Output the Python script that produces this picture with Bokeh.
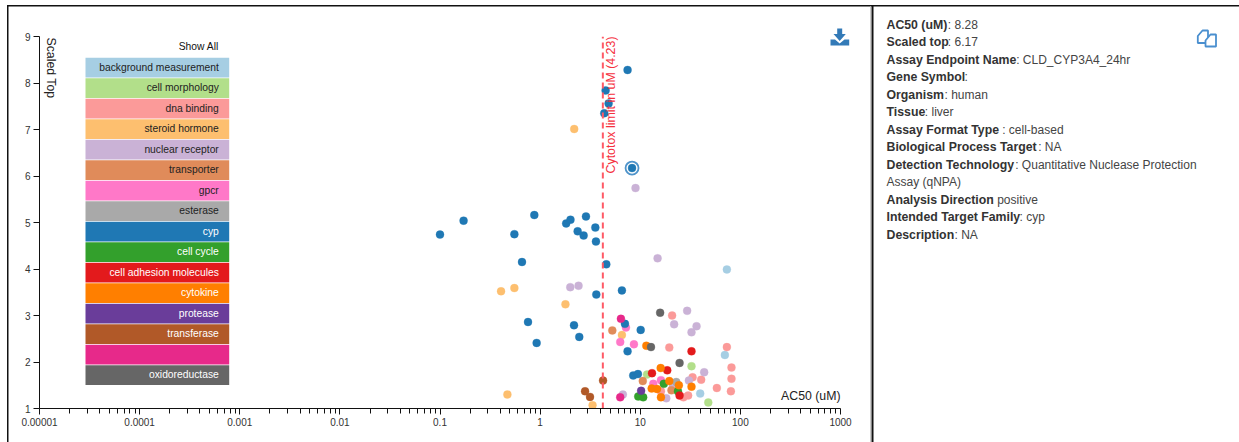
import math
from bokeh.plotting import figure
from bokeh.layouts import column, row
from bokeh.embed import file_html
from bokeh.resources import INLINE
from bokeh.models import Range1d, FixedTicker, Label, BoxAnnotation, PolyAnnotation

W, H = 1239, 442

categories = ["background measurement", "cell morphology", "dna binding", "steroid hormone",
              "nuclear receptor", "transporter", "gpcr", "esterase", "cyp", "cell cycle",
              "cell adhesion molecules", "cytokine", "protease", "transferase", "", "oxidoreductase"]
colors = ["#a6cee3", "#b2df8a", "#fb9a99", "#fdbf6f", "#cab2d6", "#e08b5a", "#ff78c8", "#a9a9a9",
          "#1f78b4", "#33a02c", "#e31a1c", "#ff7f00", "#6a3d9a", "#b15928", "#e7298a", "#666666"]
label_colors = ["#222"] * 8 + ["#fff"] * 8

ac50 = {
    "background measurement": [70.0, 39.7, 73.3],
    "cell morphology": [32.5, 11.7, 47.8],
    "dna binding": [20.8, 19.5, 73.3, 81.5, 81.5, 80.4, 58.2, 40.6, 33.3, 16.1, 27.0, 30.1],
    "steroid hormone": [2.19, 0.407, 0.553, 1.79, 0.471, 6.56, 3.34],
    "nuclear receptor": [8.97, 14.9, 2.00, 2.42, 6.71, 18.2, 29.4, 21.8, 36.5, 32.5, 43.5, 30.6, 21.2],
    "transporter": [5.26, 10.6, 20.5],
    "gpcr": [7.20, 6.31, 8.65, 13.5, 16.1],
    "esterase": [22.9],
    "cyp": [7.47, 4.51, 4.83, 4.37, 8.28, 0.100, 0.172, 0.553, 0.875, 1.82, 2.01, 2.87, 3.56, 2.37,
            2.72, 3.61, 0.659, 4.58, 3.64, 6.56, 0.757, 2.18, 2.46, 0.923, 7.03, 10.1, 7.47, 8.51, 9.48],
    "cell cycle": [17.2, 23.8, 9.55, 10.7],
    "cell adhesion molecules": [32.5, 13.1, 18.6, 24.7],
    "cytokine": [11.5, 16.0, 13.0, 14.7, 16.1, 19.5, 24.3, 32.5],
    "protease": [10.2],
    "transferase": [4.25, 2.81, 3.15],
    "": [6.41, 6.31],
    "oxidoreductase": [15.8, 12.8, 24.7],
}
scaled_top = {
    "background measurement": [2.15, 1.32, 3.99],
    "cell morphology": [1.91, 1.73, 1.13],
    "dna binding": [3.00, 2.31, 2.32, 1.88, 1.64, 1.37, 1.44, 1.62, 1.67, 1.37, 1.24, 1.28],
    "steroid hormone": [7.01, 3.52, 3.59, 3.24, 1.30, 2.58, 1.07],
    "nuclear receptor": [5.74, 4.23, 3.61, 3.64, 1.30, 1.22, 3.10, 2.81, 2.77, 2.64, 1.78, 1.60, 1.46],
    "transporter": [2.68, 1.59, 1.39],
    "gpcr": [2.74, 2.43, 2.38, 1.53, 1.61],
    "esterase": [1.57],
    "cyp": [8.28, 7.84, 7.56, 7.35, 6.17, 4.74, 5.04, 4.75, 5.16, 4.98, 5.06, 5.13, 4.89, 4.81,
            4.72, 4.59, 4.15, 4.10, 3.45, 3.54, 2.86, 2.79, 2.54, 2.41, 2.82, 2.69, 2.23, 1.71, 1.74],
    "cell cycle": [1.53, 1.37, 1.26, 1.24],
    "cell adhesion molecules": [2.23, 1.76, 1.82, 1.28],
    "cytokine": [2.35, 1.87, 1.43, 1.42, 1.24, 1.59, 1.50, 1.47],
    "protease": [1.38],
    "transferase": [1.60, 1.37, 1.25],
    "": [2.93, 1.24],
    "oxidoreductase": [3.06, 2.32, 1.98],
}
selected_ac50 = [8.28]
selected_top = [6.17]
cytotox = 4.23

decades = [0.00001, 0.0001, 0.001, 0.01, 0.1, 1, 10, 100, 1000]
decade_labels = ["0.00001", "0.0001", "0.001", "0.01", "0.1", "1", "10", "100", "1000"]
y_ticks = [1, 2, 3, 4, 5, 6, 7, 8, 9]

details = [
    ("AC50 (uM)", ": 8.28", 947.3),
    ("Scaled top", ": 6.17", 947.3),
    ("Assay Endpoint Name", ": CLD_CYP3A4_24hr", 1015.7),
    ("Gene Symbol", ":", 964),
    ("Organism", ": human", 944),
    ("Tissue", ": liver", 924.3),
    ("Assay Format Type", ": cell-based", 1001.7),
    ("Biological Process Target", ": NA", 1037.7),
    ("Detection Technology", ": Quantitative Nuclease Protection", 1014.7),
    ("", "Assay (qNPA)", 886),
    ("Analysis Direction", ": positive", 990),
    ("Intended Target Family", ": cyp", 1019),
    ("Description", ": NA", 954),
]

FONT = "Liberation Sans"
p = figure(width=W, height=H, output_backend="svg", toolbar_location=None,
           x_axis_type="log", x_range=Range1d(1e-5, 1e3), y_range=Range1d(1, 9),
           min_border_left=39, min_border_right=W - 840, min_border_top=36, min_border_bottom=H - 408,
           outline_line_color=None, background_fill_color="white", border_fill_color="white")
p.grid.visible = False

minor = [d * k for d in decades[:-1] for k in range(2, 10)]
xa = p.xaxis[0]
xa.ticker = FixedTicker(ticks=decades, minor_ticks=minor)
xa.major_label_overrides = {d: s for d, s in zip(decades, decade_labels)}
xa.major_tick_in = 0
xa.major_tick_out = 6
xa.minor_tick_in = 0
xa.minor_tick_out = 5
xa.major_label_standoff = 3
ya = p.yaxis[0]
ya.ticker = FixedTicker(ticks=y_ticks)
ya.major_tick_in = 0
ya.major_tick_out = 6
ya.minor_tick_line_color = None
ya.major_label_standoff = 3
for a in (xa, ya):
    a.axis_line_color = "#111"
    a.major_tick_line_color = "#111"
    a.major_label_text_font = FONT
    a.major_label_text_font_size = "10px"
    a.major_label_text_color = "#333"
xa.minor_tick_line_color = "#111"

# points
for c, col in zip(categories, colors):
    p.scatter(ac50[c], scaled_top[c], size=8, fill_color=col, line_color=col, line_alpha=0.3, line_width=1)
p.scatter(selected_ac50, selected_top, size=13, fill_color=None, line_color="#3b87c4",
          line_width=1.8, line_alpha=0.9)

# cytotox line
p.line([cytotox, cytotox], [1, 9], line_color="#ff5a66", line_width=2, line_dash="6 4")

# transparent full-canvas layer for everything that lies outside the plot area
o = figure(width=W, height=H, output_backend="svg", toolbar_location=None,
           x_range=Range1d(0, W), y_range=Range1d(H, 0), x_axis_location=None, y_axis_location=None,
           min_border=0, outline_line_color=None, background_fill_color=None, border_fill_color=None)
o.grid.visible = False


def text(x, y, s, size=10.3, color="#222", style="normal", align="left", angle=0, baseline="middle"):
    o.add_layout(Label(x=x, y=y, x_units="canvas", y_units="canvas", text=s, text_font=FONT,
                       text_font_size=f"{size}px", text_color=color, text_font_style=style,
                       text_align=align, text_baseline=baseline, angle=angle))


def box(x0, y0, x1, y1, color):
    o.add_layout(BoxAnnotation(left=x0, right=x1, top=y0, bottom=y1, left_units="canvas",
                               right_units="canvas", top_units="canvas", bottom_units="canvas",
                               fill_color=color, fill_alpha=1, line_color=None))


def poly(pts, fill, line=None, lw=1.0):
    o.add_layout(PolyAnnotation(xs=[a for a, _ in pts], ys=[b for _, b in pts], xs_units="canvas",
                                ys_units="canvas", fill_color=fill, fill_alpha=1, line_color=line,
                                line_alpha=1, line_width=lw))


# page frame
box(6.5, 4.5, W, 6, "#111")
box(6.5, 4.5, 8, H, "#111")
box(871, 4.5, 873, H, "#111")
box(869.5, 6, 870.5, H, "#ccc")

# category legend
for i, (c, col, lc) in enumerate(zip(categories, colors, label_colors)):
    top = 57.3 + i * 20.5
    box(85, top, 228.7, top + 19.6, col)
    if c:
        text(218.3, top + 9.2, c, color=lc, align="right")
text(218.3, 45.5, "Show All", align="right", color="#111")

text(610.5, 173, "Cytotox limit in uM (4.23)", size=12.4, color="#f5303e", angle=math.pi / 2)
text(50, 37, "Scaled Top", size=12.3, color="#222", angle=-math.pi / 2)
text(840, 395, "AC50 (uM)", size=12.3, color="#222", align="right")

# details panel
for i, (k, v, vx) in enumerate(details):
    yy = 24 + i * 17.5
    if k:
        text(886, yy, k, size=12.3, color="#333", style="bold")
    text(vx, yy, v, size=12, color="#444")

# download icon
BLUE = "#337ab7"
poly([(836.7, 28), (841.7, 28), (841.7, 33.5), (845.3, 33.5), (839.2, 40.5), (833, 33.5), (836.7, 33.5)], BLUE)
poly([(830, 39), (834.5, 39), (839.2, 43), (844, 39), (848.7, 39), (848.7, 45), (830, 45)], BLUE)

# copy icon
ICON = "#4a8fcf"
poly([(1197.3, 35.5), (1202, 30), (1207.5, 30), (1207.5, 42.5), (1197.3, 42.5)], "white", ICON, 1.8)
poly([(1205, 40), (1210, 34), (1215.5, 34), (1215.5, 46), (1205, 46)], "white", ICON, 1.8)

overlay = row(o, margin=(-H, 0, 0, 0))
open("out.html", "w").write(file_html(column(p, overlay, spacing=0), INLINE))
